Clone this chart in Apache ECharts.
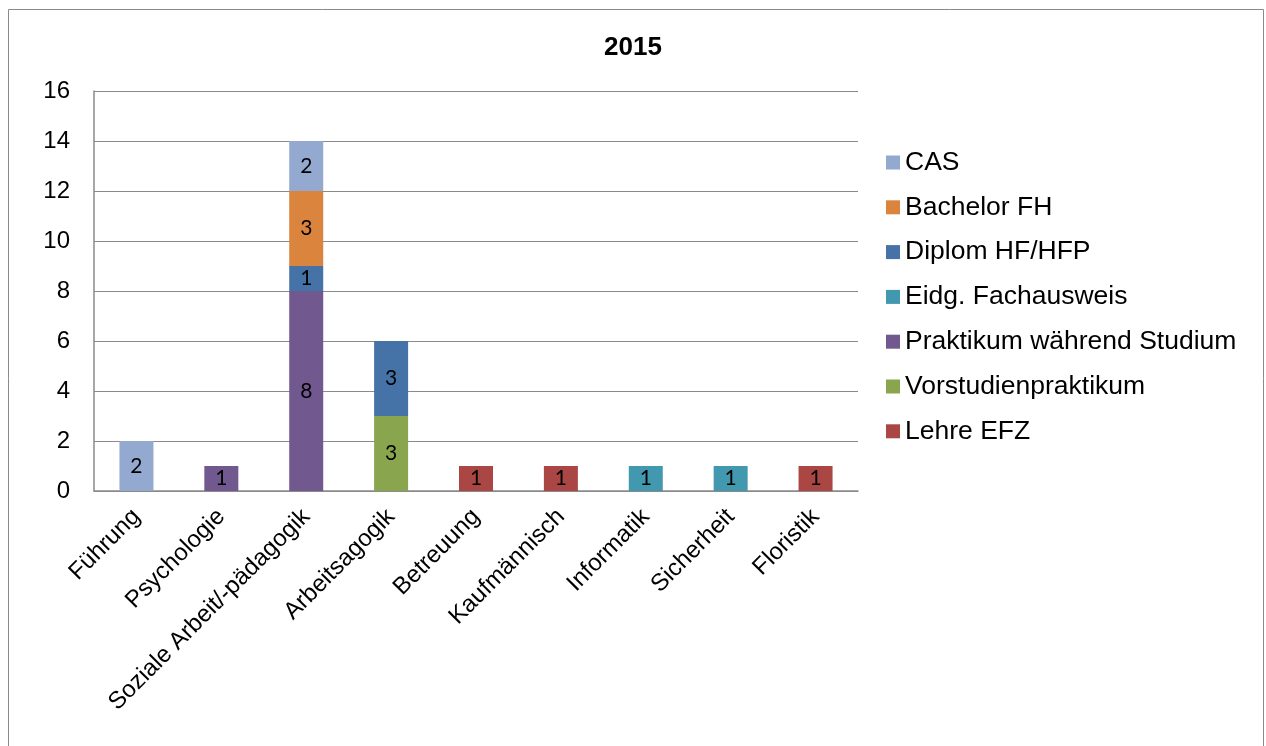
<!DOCTYPE html>
<html>
<head>
<meta charset="utf-8">
<script src="https://cdn.jsdelivr.net/npm/echarts@6/dist/echarts.min.js"></script>
<style>
html,body{margin:0;padding:0;background:#fff;}
#chart{width:1266px;height:746px;}
</style>
</head>
<body>
<div id="chart"></div>
<script>
const title = '2015';
const categories = ['Führung','Psychologie','Soziale Arbeit/-pädagogik','Arbeitsagogik','Betreuung','Kaufmännisch','Informatik','Sicherheit','Floristik'];
const yTicks = [0,2,4,6,8,10,12,14,16];
// series (bottom to top of stack)
const lehreEFZ          = [null,null,null,null,1,1,null,null,1];
const vorstudien        = [null,null,null,3,null,null,null,null,null];
const praktikumStudium  = [null,1,8,null,null,null,null,null,null];
const eidgFachausweis   = [null,null,null,null,null,null,1,1,null];
const diplomHF          = [null,null,1,3,null,null,null,null,null];
const bachelorFH        = [null,null,3,null,null,null,null,null,null];
const cas               = [2,null,2,null,null,null,null,null,null];

const seriesDefs = [
  {name:'Lehre EFZ', data:lehreEFZ, color:'#AA4643'},
  {name:'Vorstudienpraktikum', data:vorstudien, color:'#89A54E'},
  {name:'Praktikum während Studium', data:praktikumStudium, color:'#71588F'},
  {name:'Eidg. Fachausweis', data:eidgFachausweis, color:'#4198AF'},
  {name:'Diplom HF/HFP', data:diplomHF, color:'#4572A7'},
  {name:'Bachelor FH', data:bachelorFH, color:'#DB843D'},
  {name:'CAS', data:cas, color:'#93A9CF'}
];

const chart = echarts.init(document.getElementById('chart'), null, {renderer:'canvas'});
const font = 'Liberation Sans, Arial, sans-serif';
chart.setOption({
  animation:false,
  backgroundColor:'#fff',
  textStyle:{fontFamily:font},
  graphic:[{type:'rect', shape:{x:8.5,y:9.5,width:1255,height:800}, style:{fill:null, stroke:'#8a8a8a', lineWidth:1}, silent:true}],
  title:{text:title, left:'center', top:30, textStyle:{fontFamily:font, fontWeight:'bold', fontSize:26, color:'#000'}},
  legend:{
    orient:'vertical', left:881, top:144,
    data:seriesDefs.map(s=>s.name).slice().reverse(),
    icon:'rect', itemWidth:14, itemHeight:14, itemGap:17.8,
    textStyle:{fontFamily:font, fontSize:26.5, color:'#000', lineHeight:26, padding:[0,0,0,0]}
  },
  grid:{left:94, right:408, top:91, bottom:255, containLabel:false},
  xAxis:{
    type:'category', data:categories,
    axisLine:{show:true, lineStyle:{color:'#8a8a8a', width:1.5}},
    axisTick:{show:false},
    axisLabel:{rotate:45, interval:0, margin:22, fontFamily:font, fontSize:24, color:'#000'}
  },
  yAxis:{
    type:'value', min:yTicks[0], max:yTicks[yTicks.length-1], interval:2,
    axisLine:{show:true, lineStyle:{color:'#8a8a8a', width:1.5}},
    axisTick:{show:false},
    splitLine:{show:true, lineStyle:{color:'#8a8a8a', width:1}},
    axisLabel:{margin:24, fontFamily:font, fontSize:24, color:'#000'}
  },
  series:seriesDefs.map(s=>({
    name:s.name, type:'bar', stack:'total', data:s.data, barWidth:34,
    itemStyle:{color:s.color},
    label:{show:true, position:'inside', color:'#000', fontFamily:'Lato, Carlito, sans-serif', fontSize:21}
  }))
});
</script>
</body>
</html>
